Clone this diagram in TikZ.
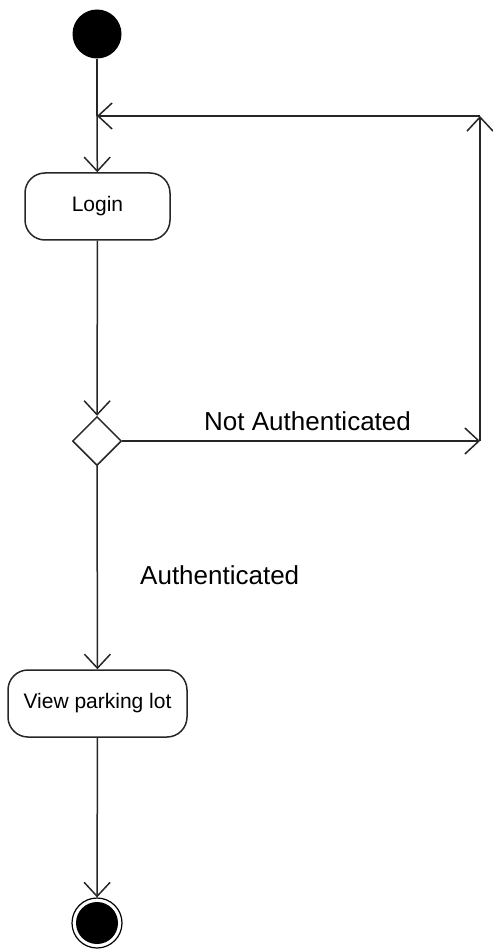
\documentclass[tikz,border=0pt]{standalone}
\usepackage{fontspec}
\setmainfont{Liberation Sans}
\usetikzlibrary{shapes.geometric,arrows.meta}
\begin{document}
\begin{tikzpicture}[x=1pt,y=-1pt,
  flow/.style={draw=black!85, line width=1.5pt, -{Straight Barb[length=14pt,width=26pt,line width=1.5pt]}},
  act/.style={draw=black!85, line width=1.5pt, rounded corners=20pt, align=center, font=\fontsize{21}{23}\selectfont, inner sep=0pt},
  lbl/.style={font=\fontsize{26}{29}\selectfont, inner sep=0pt}]
\useasboundingbox (0,0) rectangle (492,949);
\node[circle, fill=black, minimum size=49pt, inner sep=0pt] (start) at (97,34) {};
\coordinate (join) at (97,116);
\node[act, minimum width=145pt, minimum height=67pt] (login) at (97.5,206.5) {Login};
\node[diamond, draw=black!85, line width=1.5pt, fill=white, minimum width=49pt, minimum height=49pt, inner sep=0pt] (dec) at (97,441) {};
\coordinate (br) at (480,441);
\coordinate (tr) at (480,116);
\node[act, minimum width=179pt, minimum height=67pt] (view) at (97.5,703.5) {View parking lot};
\node[circle, draw=black, line width=1.2pt, minimum size=50pt, inner sep=0pt] (end) at (97,923) {};
\node[circle, fill=black, minimum size=42pt, inner sep=0pt] (endin) at (end.center) {};
\draw[draw=black!85, line width=1.5pt] (start) -- (join);
\draw[flow] (join) -- (login);
\draw[flow] (login) -- (dec);
\draw[flow] (dec.east) -- (br);
\draw[flow] (br) -- (tr);
\draw[flow] (tr) -- (join);
\draw[flow] (dec) -- (view);
\draw[flow] (view) -- (end);
\node[lbl, anchor=west] (na) at (204,421) {Not Authenticated};
\node[lbl, anchor=west] (au) at (140,575) {Authenticated};
\end{tikzpicture}
\end{document}
